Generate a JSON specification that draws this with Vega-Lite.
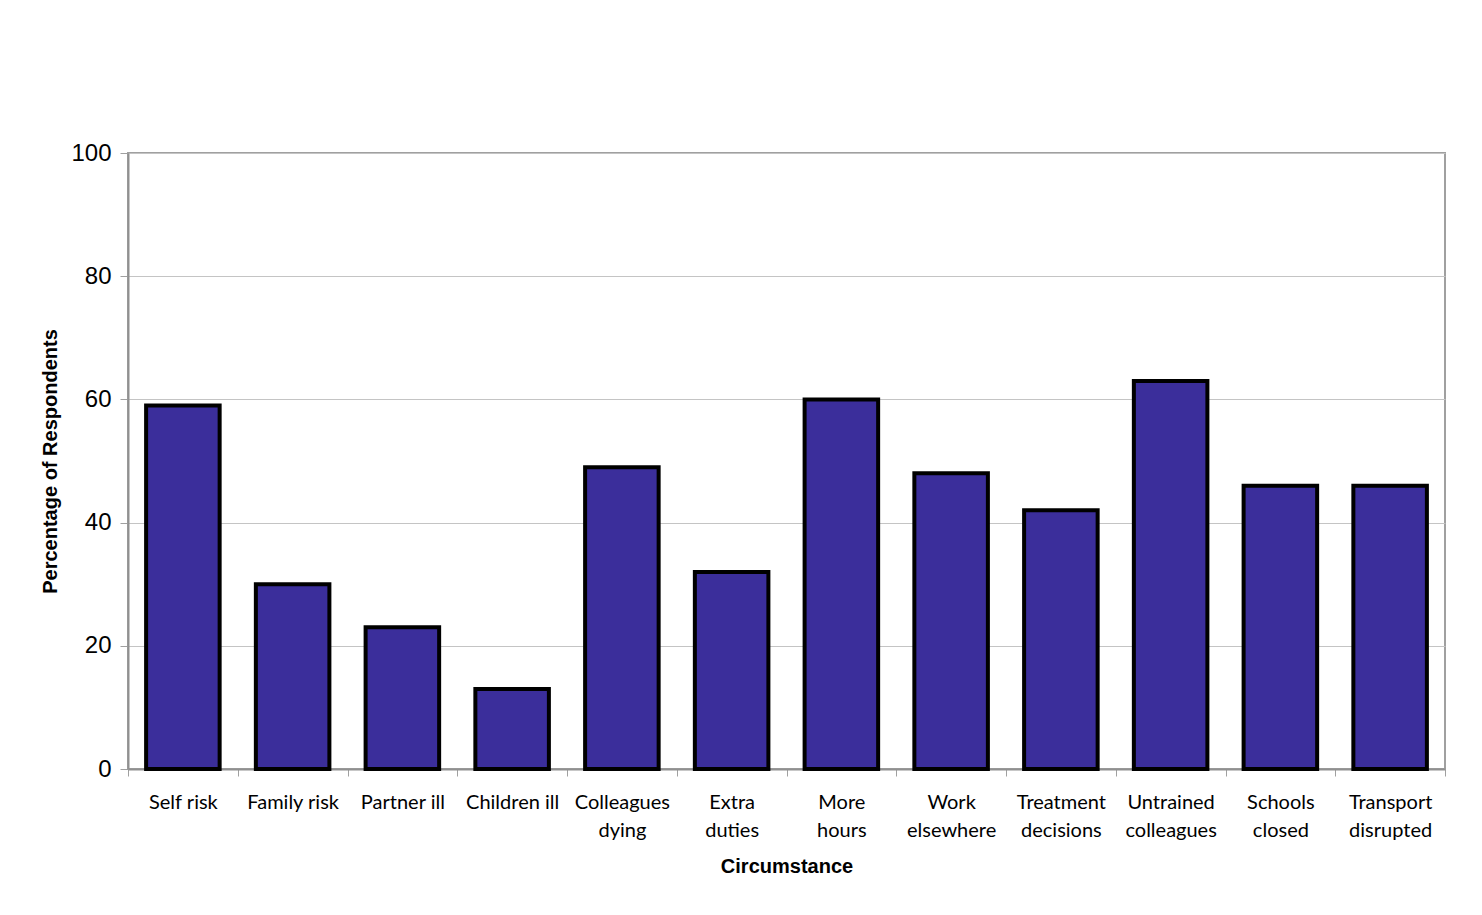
{
  "$schema": "https://vega.github.io/schema/vega-lite/v6.json",
  "width": 1317,
  "height": 616,
  "autosize": "none",
  "padding": {"left": 128, "top": 153, "right": 37, "bottom": 146},
  "background": "white",
  "data": {
    "values": [
      {"Circumstance": "Self risk", "Percent": 59},
      {"Circumstance": "Family risk", "Percent": 30},
      {"Circumstance": "Partner ill", "Percent": 23},
      {"Circumstance": "Children ill", "Percent": 13},
      {"Circumstance": "Colleagues dying", "Percent": 49},
      {"Circumstance": "Extra duties", "Percent": 32},
      {"Circumstance": "More hours", "Percent": 60},
      {"Circumstance": "Work elsewhere", "Percent": 48},
      {"Circumstance": "Treatment decisions", "Percent": 42},
      {"Circumstance": "Untrained colleagues", "Percent": 63},
      {"Circumstance": "Schools closed", "Percent": 46},
      {"Circumstance": "Transport disrupted", "Percent": 46}
    ]
  },
  "mark": {"type": "bar", "fill": "#3b2e9b", "stroke": "black", "strokeWidth": 4, "width": {"band": 0.67}},
  "encoding": {
    "x": {
      "field": "Circumstance",
      "type": "nominal",
      "sort": null,
      "scale": {"paddingInner": 0, "paddingOuter": 0},
      "axis": {
        "title": "Circumstance",
        "titleFont": "Liberation Sans",
        "titleFontSize": 20,
        "titleFontWeight": "bold",
        "titleColor": "black",
        "titlePadding": 16,
        "labelFont": "Lato",
        "labelFontSize": 20,
        "labelColor": "black",
        "labelAngle": 0,
        "labelPadding": 16,
        "labelLineHeight": 28,
        "labelExpr": "!isValid(datum.value) ? '' : indexof(['Self risk','Family risk','Partner ill','Children ill'], datum.value) >= 0 ? datum.value : split(datum.value, ' ')",
        "tickBand": "extent",
        "tickSize": 7,
        "tickColor": "#a0a0a0",
        "domainColor": "#909090",
        "domainWidth": 2,
        "grid": false
      }
    },
    "y": {
      "field": "Percent",
      "type": "quantitative",
      "scale": {"domain": [0, 100], "nice": false},
      "axis": {
        "title": "Percentage of Respondents",
        "titleFont": "Liberation Sans",
        "titleFontSize": 20,
        "titleFontWeight": "bold",
        "titleColor": "black",
        "titlePadding": 10,
        "labelFont": "Liberation Sans",
        "labelFontSize": 24,
        "labelColor": "black",
        "labelPadding": 9,
        "values": [0, 20, 40, 60, 80, 100],
        "tickSize": 8,
        "tickColor": "#a0a0a0",
        "domainColor": "#909090",
        "domainWidth": 2,
        "gridColor": "#c4c4c4",
        "gridWidth": 1
      }
    }
  },
  "config": {
    "view": {"stroke": "#a0a0a0", "strokeWidth": 2}
  }
}
